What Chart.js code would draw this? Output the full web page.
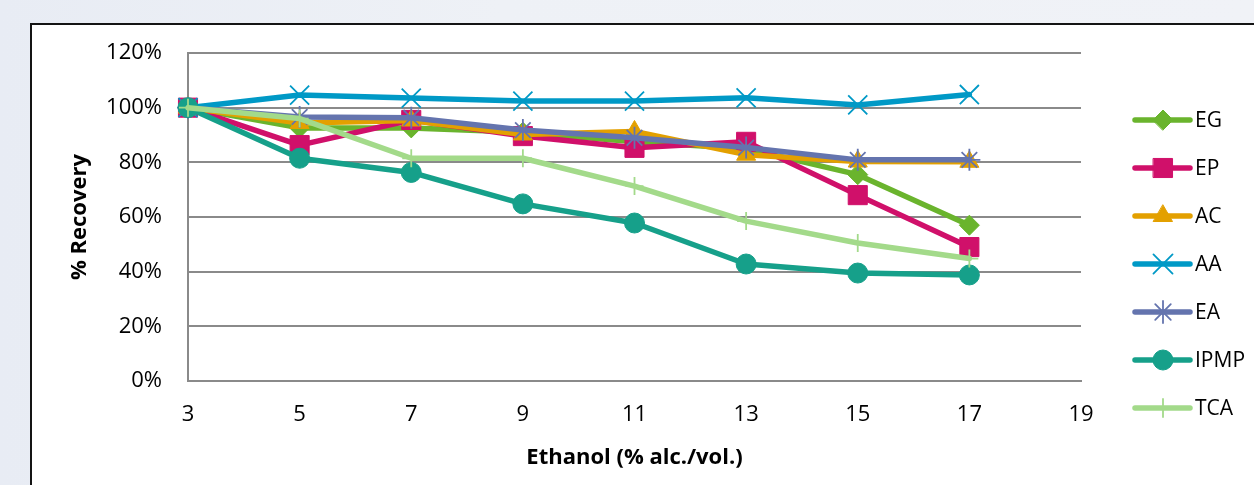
<!DOCTYPE html>
<html>
<head>
<meta charset="utf-8">
<script src="https://cdn.jsdelivr.net/npm/chart.js@4/dist/chart.umd.min.js"></script>
<style>
  html, body { margin: 0; padding: 0; }
  body {
    width: 1254px; height: 485px; overflow: hidden; position: relative;
    background: linear-gradient(90deg, #e8ecf4 0%, #eef1f6 40%, #f0f2f7 100%);
  }
  #frame {
    position: absolute; left: 30px; top: 23px; width: 1300px; height: 500px;
    background: #ffffff; border: 2px solid #141414;
  }
  #chart { position: absolute; left: 32px; top: 25px; }
</style>
</head>
<body>
<div id="frame"></div>
<canvas id="chart" width="1222" height="460"></canvas>
<script>
// Ethanol concentration (% alc./vol.) on the x axis
const ethanol = [3, 5, 7, 9, 11, 13, 15, 17];

// % recovery for each compound
const egValues   = [100, 92.6, 92.6, 91, 87.5, 85, 75.5, 57];
const epValues   = [100, 86.3, 95.5, 89.6, 85.3, 87.5, 68, 49];
const acValues   = [100, 94.4, 95.3, 90.2, 91.3, 82.8, 80.3, 80.2];
const aaValues   = [100, 104.6, 103.5, 102.4, 102.4, 103.6, 101, 104.8];
const eaValues   = [100, 96.6, 96.3, 91.8, 89, 85.4, 80.9, 80.9];
const ipmpValues = [100, 81.5, 76.3, 64.8, 57.8, 42.8, 39.5, 38.8];
const tcaValues  = [100, 96, 81.5, 81.5, 71.3, 58.5, 50.5, 44.8];

const seriesNames = ['EG', 'EP', 'AC', 'AA', 'EA', 'IPMP', 'TCA'];
const seriesValues = [egValues, epValues, acValues, aaValues, eaValues, ipmpValues, tcaValues];
const seriesColors = ['#6ab42d', '#d0106a', '#e3a000', '#0099c6', '#6474ae', '#16a08a', '#a3da8a'];
const seriesMarkers = ['rectRot', 'rect', 'triangle', 'crossRot', 'star', 'circle', 'cross'];
const markerSizes = [10, 13.5, 11, 13.5, 11, 10, 9];

const xTicks = [3, 5, 7, 9, 11, 13, 15, 17, 19];
const yTicks = [0, 20, 40, 60, 80, 100, 120];

const FONT = "'Open Sans', 'Liberation Sans', sans-serif";

function buildDatasets() {
    return seriesNames.map((name, i) => {
        // thin strokes for the cross-like markers, filled shapes otherwise
        let thin = ['crossRot', 'star', 'cross'].includes(seriesMarkers[i]);
        return {
            label: name,
            data: ethanol.map((x, j) => ({ x: x, y: seriesValues[i][j] })),
            borderColor: seriesColors[i],
            backgroundColor: seriesColors[i],
            borderWidth: 5.5,
            borderJoinStyle: 'round',
            borderCapStyle: 'round',
            tension: 0,
            pointStyle: seriesMarkers[i],
            pointRadius: markerSizes[i],
            pointBorderWidth: thin ? 1.8 : 1,
            pointBackgroundColor: seriesColors[i],
            pointBorderColor: seriesColors[i],
            clip: false,
            // later series are painted on top, like the original
            order: seriesNames.length - i
        };
    });
}

// Legend on the right: a short line with the marker on it, then the name
const sideLegend = {
    id: 'sideLegend',
    afterDraw(chart) {
        const ctx = chart.ctx;
        chart.data.datasets.forEach((ds, i) => {
            let y = 95 + 48 * i;
            ctx.save();
            ctx.strokeStyle = ds.borderColor;
            ctx.lineWidth = 5.5;
            ctx.lineCap = 'round';
            ctx.beginPath();
            ctx.moveTo(1103, y);
            ctx.lineTo(1158, y);
            ctx.stroke();

            ctx.fillStyle = ds.pointBackgroundColor;
            ctx.strokeStyle = ds.pointBorderColor;
            ctx.lineWidth = ds.pointBorderWidth;
            Chart.helpers.drawPoint(ctx, {
                pointStyle: ds.pointStyle,
                rotation: 0,
                radius: ds.pointRadius,
                borderWidth: ds.pointBorderWidth
            }, 1131, y);

            ctx.fillStyle = '#000000';
            ctx.font = '21px ' + FONT;
            ctx.textAlign = 'left';
            ctx.textBaseline = 'middle';
            ctx.fillText(ds.label, 1163, y + 1);
            ctx.restore();
        });
    }
};

const ctx = document.getElementById('chart').getContext('2d');
const recoveryChart = new Chart(ctx, {
    type: 'line',
    data: { datasets: buildDatasets() },
    plugins: [sideLegend],
    options: {
        responsive: false,
        animation: false,
        layout: { padding: { top: 28, right: 173, bottom: 0, left: 0 } },
        plugins: {
            legend: { display: false },
            tooltip: { enabled: false }
        },
        scales: {
            x: {
                type: 'linear',
                min: 3,
                max: 19,
                afterBuildTicks: (scale) => { scale.ticks = xTicks.map(v => ({ value: v })); },
                afterFit: (scale) => { scale.height = 104; },
                grid: { display: false, drawTicks: false },
                border: { display: true, color: '#8a8a8a', width: 2 },
                ticks: {
                    padding: 21,
                    color: '#000000',
                    font: { family: FONT, size: 22 },
                    maxRotation: 0
                },
                title: {
                    display: true,
                    text: 'Ethanol (% alc./vol.)',
                    color: '#000000',
                    font: { family: FONT, size: 22, weight: 'bold' },
                    padding: { top: 0, bottom: 14 }
                }
            },
            y: {
                min: 0,
                max: 120,
                afterBuildTicks: (scale) => { scale.ticks = yTicks.map(v => ({ value: v })); },
                afterFit: (scale) => {
                    scale.width = 156;
                    // the tick padding would otherwise push the plot top down
                    scale.paddingTop = 0;
                    scale.paddingBottom = 0;
                },
                grid: { color: '#8a8a8a', lineWidth: 2, drawTicks: false },
                border: { display: true, color: '#8a8a8a', width: 2 },
                ticks: {
                    padding: 26,
                    color: '#000000',
                    font: { family: FONT, size: 22 },
                    callback: (v) => v + '%'
                },
                title: {
                    display: true,
                    text: '% Recovery',
                    color: '#000000',
                    font: { family: FONT, size: 22, weight: 'bold' },
                    padding: { top: 35, bottom: 0 }
                }
            }
        }
    }
});
</script>
</body>
</html>
